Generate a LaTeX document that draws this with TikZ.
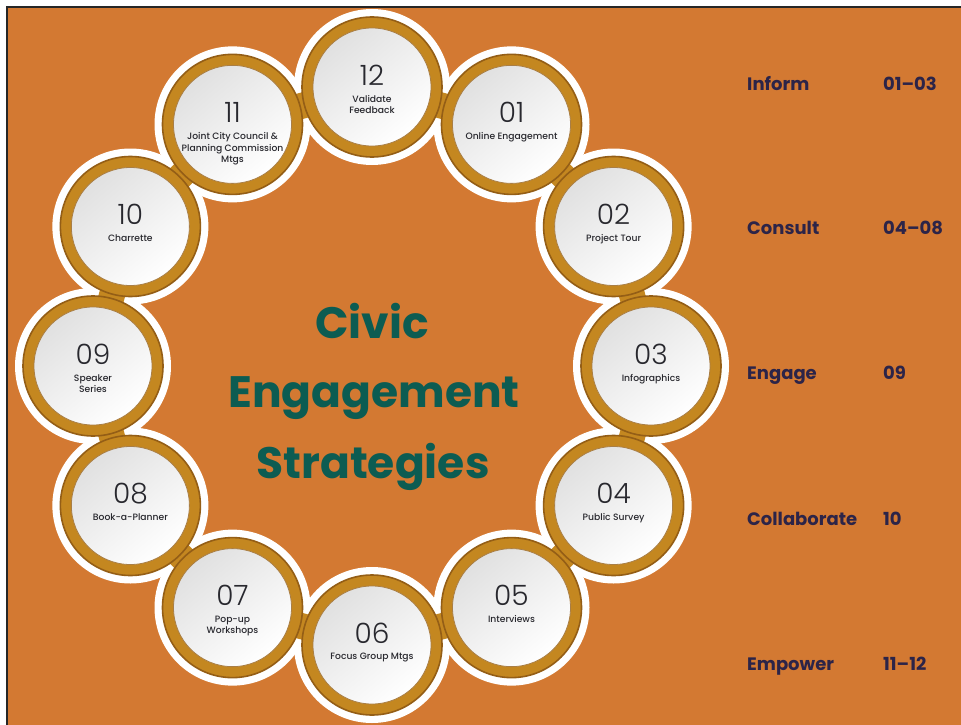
\documentclass[tikz,border=0pt]{standalone}
\usepackage{fontspec}
\setmainfont{Poppins}
\newfontfamily\numfont{Poppins Light}
\newfontfamily\lblfont{Poppins Medium}
\usetikzlibrary{positioning,calc}
\definecolor{bgorange}{RGB}{211,121,50}
\definecolor{goldc}{RGB}{196,135,32}
\definecolor{golddark}{RGB}{148,94,22}
\definecolor{tealtitle}{RGB}{12,92,82}
\definecolor{navy}{RGB}{44,36,72}
\definecolor{ink}{RGB}{40,40,46}
\tikzset{
  halo/.style={circle, fill=white, minimum size=156pt, inner sep=0pt},
  goldring/.style={circle, fill=goldc, draw=golddark, line width=1.6pt, minimum size=140pt, inner sep=0pt},
  disk/.style={circle, top color=gray!24, bottom color=white, shading angle=40,
    draw=golddark!80, line width=0.8pt, minimum size=118pt, inner sep=0pt},
  bridge/.style={draw=goldc, line width=26pt},
  num/.style={font=\numfont\fontsize{28}{28}\selectfont, text=ink, inner sep=0pt},
  lbl/.style={font=\lblfont\fontsize{9.2}{11.5}\selectfont, text=ink, align=center, inner sep=0pt, anchor=north},
  level/.style={font=\bfseries\fontsize{18}{18}\selectfont, text=navy, anchor=base west, inner sep=0pt},
  titleline/.style={font=\bfseries\fontsize{44}{44}\selectfont, text=tealtitle, anchor=base, inner sep=0pt},
}

\begin{document}
\begin{tikzpicture}[x=1pt, y=-1pt]
  \useasboundingbox (0,0) rectangle (961,725);
  \fill[white] (0,0) rectangle (961,725);
  \fill[bgorange] (7,7) rectangle (961,725);
  \draw[black!85, line width=2.5pt] (7,725) -- (7,7) -- (961,7);

  \coordinate (o) at (372,366);
  % white outline, gold band, gold rings, silver disks
  \foreach \k in {1,...,12}
    \node[halo] (h\k) at ([shift={(90-30*\k:279pt)}]o) {};
  \foreach \k in {1,...,12}
    \coordinate (p\k) at ([shift={(90-30*\k:279pt)}]o);
  \foreach \k [remember=\k as \j (initially 12)] in {1,...,12}
    \draw[bridge] (p\j) -- (p\k);
  \foreach \k in {1,...,12}
    \node[goldring] (g\k) at (p\k) {};
  \foreach \k/\n/\t in {1/01/Online Engagement, 2/02/Project Tour, 3/03/Infographics,
      4/04/Public Survey, 5/05/Interviews, 6/06/Focus Group Mtgs, 7/07/Pop-up\\Workshops,
      8/08/Book-a-Planner, 9/09/Speaker\\Series, 10/10/Charrette,
      11/11/Joint City Council \&\\Planning Commission\\Mtgs, 12/12/Validate\\Feedback} {
    \node[disk] (c\k) at (p\k) {};
    \node[num] (n\k) at ([yshift=12pt]c\k.center) {\n};
    \node[lbl] (t\k) at ([yshift=-8pt]c\k.center) {\t};
  }

  \node[titleline] (title1) at (372,338) {Civic};
  \node[titleline] (title2) at (374,407) {Engagement};
  \node[titleline] (title3) at (373,478) {Strategies};

  \foreach \y/\l/\r in {90/Inform/01--03, 234/Consult/04--08, 379/Engage/09,
      525/Collaborate/10, 670/Empower/11--12} {
    \node[level] (lv\l) at (747,\y) {\l};
    \node[level] (rg\l) at (883,\y) {\r};
  }
\end{tikzpicture}
\end{document}
